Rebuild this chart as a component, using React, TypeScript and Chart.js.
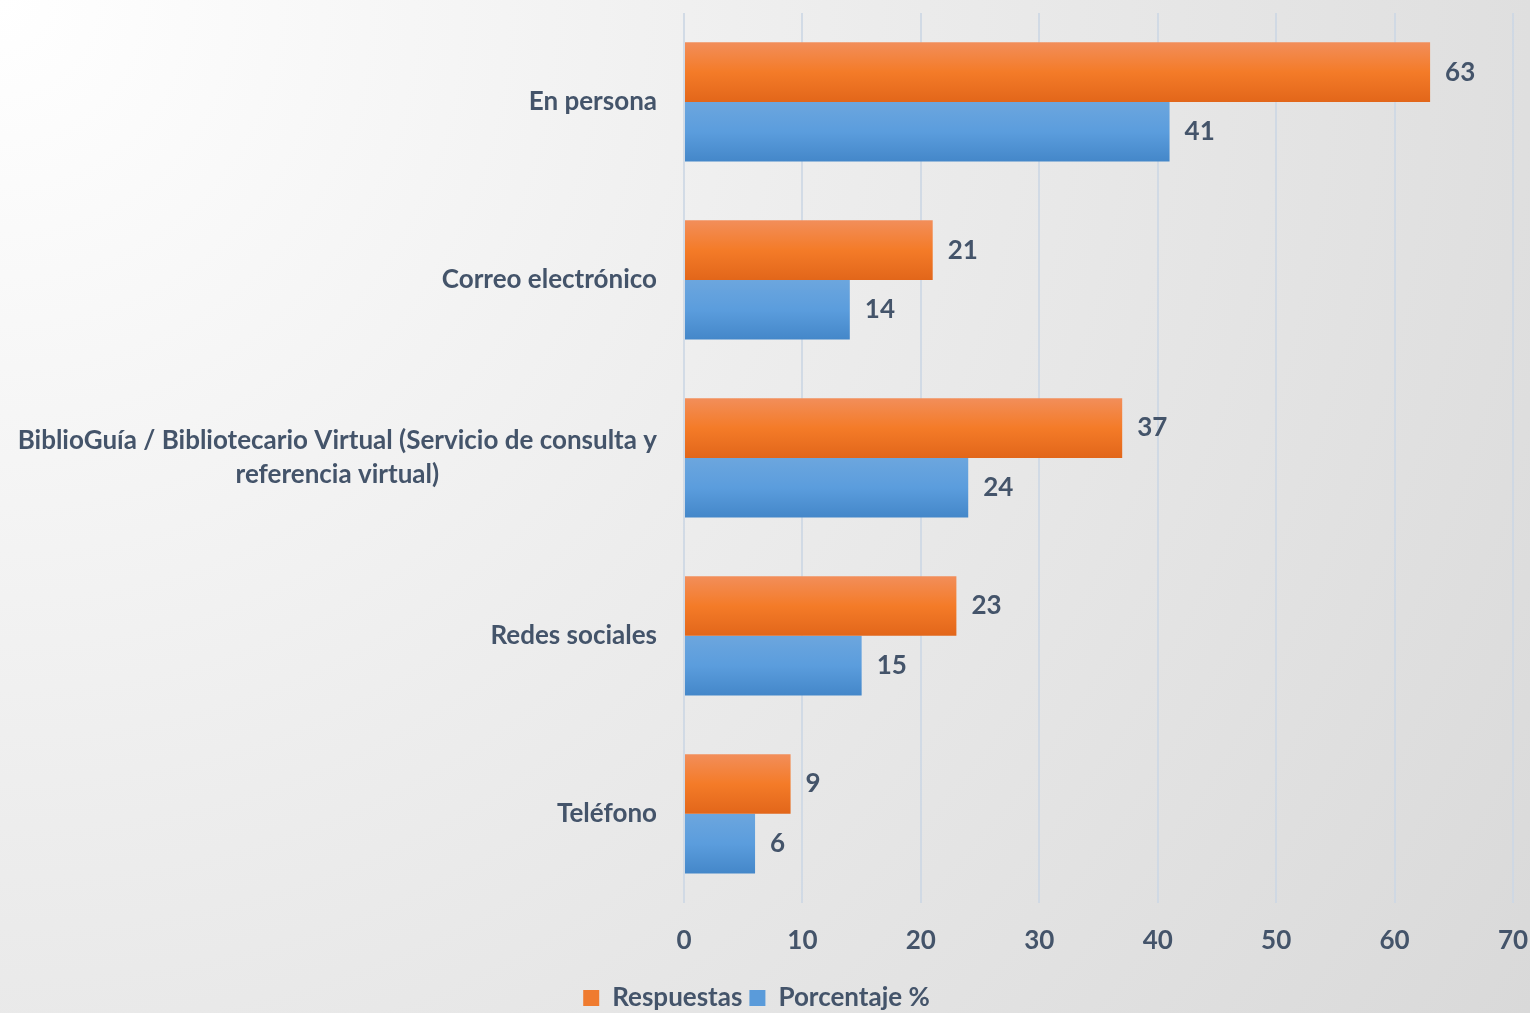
import React, { useEffect, useRef } from "react";
import { Chart, registerables } from "chart.js";
Chart.register(...registerables);

const categories: string[][] = [
  ["En persona"],
  ["Correo electrónico"],
  ["BiblioGuía / Bibliotecario Virtual (Servicio de consulta y", "referencia virtual)"],
  ["Redes sociales"],
  ["Teléfono"],
];
const respuestas = [63, 21, 37, 23, 9];
const porcentaje = [41, 14, 24, 15, 6];
const seriesNames = ["Respuestas", "Porcentaje %"];
const xMax = 70;
const xStep = 10;

const TEXT = "#44546A";
const FONT = "Lato, 'Open Sans', sans-serif";
const FS = 26;

const gradStops: string[][] = [
  ["#F28E5A", "#F47B28", "#E2661A"],
  ["#6CA6DE", "#5B9DDD", "#4487C9"],
];

const barGradientPlugin = {
  id: "barGradient",
  beforeDatasetsDraw(chart: any) {
    const ctx = chart.ctx;
    chart.data.datasets.forEach((_: any, d: number) => {
      const meta = chart.getDatasetMeta(d);
      meta.data.forEach((el: any) => {
        const top = el.y - el.height / 2;
        const bot = el.y + el.height / 2;
        const g = ctx.createLinearGradient(0, top, 0, bot);
        g.addColorStop(0, gradStops[d][0]);
        g.addColorStop(0.5, gradStops[d][1]);
        g.addColorStop(1, gradStops[d][2]);
        el.options = Object.assign({}, el.options, { backgroundColor: g });
      });
    });
  },
};

const labelsPlugin = {
  id: "customLabels",
  afterDraw(chart: any) {
    const ctx = chart.ctx;
    ctx.save();
    ctx.fillStyle = TEXT;
    ctx.font = `bold ${FS}px ${FONT}`;
    ctx.textBaseline = "middle";
    const yScale = chart.scales.y;
    const rightEdge = chart.chartArea.left - 27;
    categories.forEach((lines, i) => {
      const yc = yScale.getPixelForValue(i);
      const widest = Math.max(...lines.map((l) => ctx.measureText(l).width));
      const cx = rightEdge - widest / 2;
      const lh = 34;
      const y0 = yc - ((lines.length - 1) * lh) / 2;
      ctx.textAlign = "center";
      lines.forEach((l, k) => ctx.fillText(l, cx, y0 + k * lh));
    });
    ctx.textAlign = "left";
    chart.data.datasets.forEach((ds: any, d: number) => {
      const meta = chart.getDatasetMeta(d);
      meta.data.forEach((el: any, i: number) => {
        ctx.fillText(String(ds.data[i]), el.x + 15, el.y);
      });
    });
    ctx.restore();
  },
};

export default function App() {
  const ref = useRef<HTMLCanvasElement>(null);
  useEffect(() => {
    document.body.style.margin = "0";
    const chart = new Chart(ref.current!, {
      type: "bar",
      data: {
        labels: categories.map((c) => c.join(" ")),
        datasets: [
          {
            label: seriesNames[0],
            data: respuestas,
            backgroundColor: "#EF7B2F",
            borderWidth: 0,
            barPercentage: 1,
            categoryPercentage: 0.67,
          },
          {
            label: seriesNames[1],
            data: porcentaje,
            backgroundColor: "#5A9BDA",
            borderWidth: 0,
            barPercentage: 1,
            categoryPercentage: 0.67,
          },
        ],
      },
      options: {
        indexAxis: "y",
        animation: false,
        responsive: true,
        maintainAspectRatio: false,
        layout: { padding: { left: 0, right: 17, top: 13, bottom: -8 } },
        scales: {
          x: {
            min: 0,
            max: xMax,
            ticks: {
              stepSize: xStep,
              color: TEXT,
              font: { family: FONT, size: FS, weight: "bold" },
              padding: 22,
            },
            grid: { color: "rgba(205,215,228,0.85)", lineWidth: 2, drawTicks: false },
            border: { display: false },
            afterFit(scale: any) {
              scale.paddingLeft = 0;
              scale.paddingRight = 0;
            },
          },
          y: {
            ticks: { display: false },
            grid: { display: false },
            border: { display: false },
            afterFit(scale: any) {
              scale.width = 684;
            },
          },
        },
        plugins: {
          legend: {
            position: "bottom",
            labels: {
              color: TEXT,
              font: { family: FONT, size: FS, weight: "bold" },
              boxWidth: 16,
              boxHeight: 16,
              padding: 7,
            },
          },
          tooltip: { enabled: false },
        },
      },
      plugins: [barGradientPlugin, labelsPlugin],
    } as any);
    return () => chart.destroy();
  }, []);
  return (
    <div
      style={{
        position: "fixed",
        left: 0,
        top: 0,
        width: 1530,
        height: 1013,
        background: "radial-gradient(circle farthest-corner at 0% 0%, #FFFFFF 0%, #EDEDED 45%, #D9D9D9 100%)",
      }}
    >
      <canvas ref={ref} />
    </div>
  );
}
